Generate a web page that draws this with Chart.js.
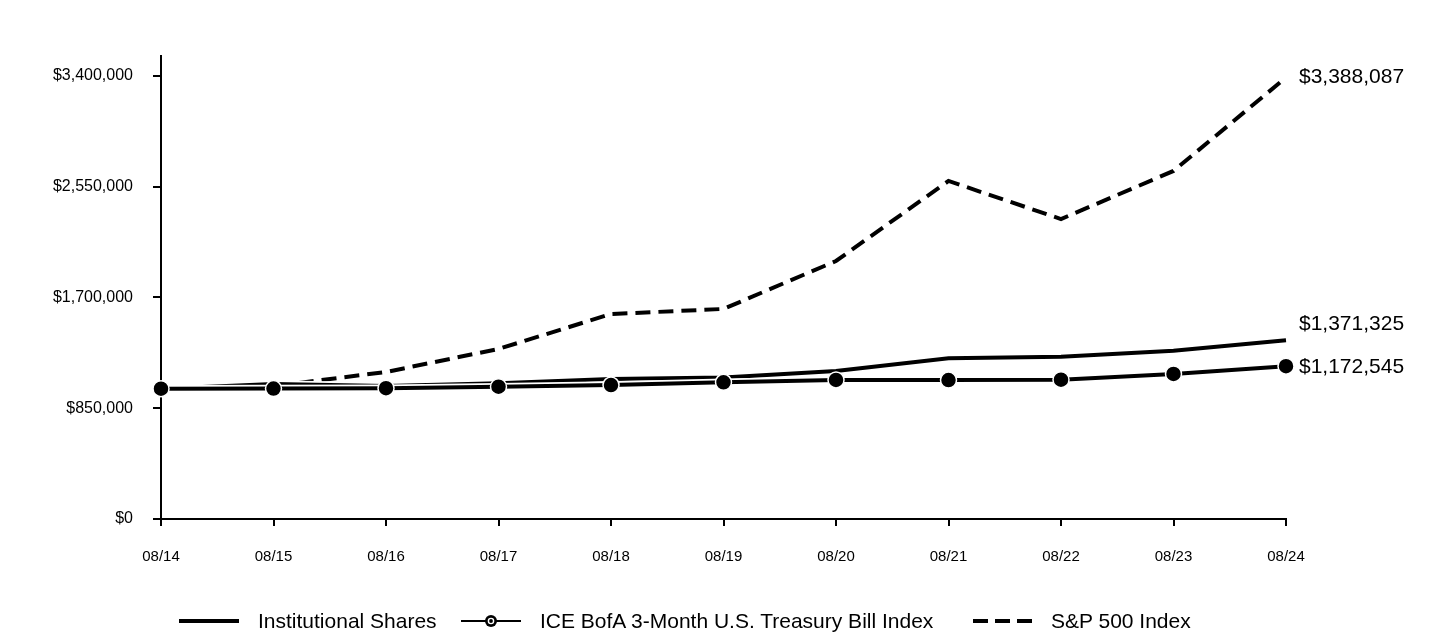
<!DOCTYPE html>
<html>
<head>
<meta charset="utf-8">
<script src="https://cdn.jsdelivr.net/npm/chart.js@4.4.1/dist/chart.umd.min.js"></script>
<style>
  html, body { margin: 0; padding: 0; background: #fff; }
  #wrap { position: relative; width: 1440px; height: 636px; overflow: hidden; }
  #c { position: absolute; left: 0; top: 0; }
  .lg { position: absolute; top: 606px; height: 30px; display: flex; align-items: center;
        font-family: "Liberation Sans", Arial, sans-serif; font-size: 21px; color: #000; white-space: nowrap; }
  .lg svg { display: block; }
</style>
</head>
<body>
<div id="wrap">
  <canvas id="c" width="1440" height="636"></canvas>
  <div class="lg" style="left:179px;">
    <svg width="60" height="30"><line x1="0" y1="15" x2="60" y2="15" stroke="#000" stroke-width="4"/></svg>
    <span style="margin-left:19px;">Institutional Shares</span>
  </div>
  <div class="lg" style="left:461px;">
    <svg width="60" height="30"><line x1="0" y1="15" x2="60" y2="15" stroke="#000" stroke-width="2"/><circle cx="30" cy="15" r="6" fill="#000"/><circle cx="30" cy="15" r="2.6" fill="none" stroke="#fff" stroke-width="1.4"/></svg>
    <span style="margin-left:19px;">ICE BofA 3-Month U.S. Treasury Bill Index</span>
  </div>
  <div class="lg" style="left:973px;">
    <svg width="60" height="30"><line x1="0" y1="15" x2="60" y2="15" stroke="#000" stroke-width="4" stroke-dasharray="15 7"/></svg>
    <span style="margin-left:18px;">S&amp;P 500 Index</span>
  </div>
</div>
<script>
// ---- data ----
const categories = ["08/14","08/15","08/16","08/17","08/18","08/19","08/20","08/21","08/22","08/23","08/24"];
const institutionalShares = [1000000, 1036000, 1021000, 1041000, 1074000, 1085000, 1136000, 1233000, 1246000, 1292000, 1371325];
const treasuryBillIndex   = [1000000, 1000500, 1004000, 1015000, 1028000, 1049000, 1067000, 1066000, 1069000, 1113000, 1172545];
const sp500Index          = [1000000, 1020000, 1128000, 1305000, 1573000, 1612000, 1980000, 2594000, 2302000, 2671000, 3388087];
const yTickValues = [0, 850000, 1700000, 2550000, 3400000];
const seriesNames = ["Institutional Shares", "ICE BofA 3-Month U.S. Treasury Bill Index", "S&P 500 Index"];

const FONT = '"Liberation Sans", Arial, sans-serif';
const fmtMoney = v => '$' + Math.round(v).toLocaleString('en-US');

// white halo under each line
const haloPlugin = {
  id: 'halo',
  beforeDatasetDraw(chart, args) {
    const pts = args.meta.data;
    if (!pts.length) return;
    const ctx = chart.ctx;
    ctx.save();
    ctx.beginPath();
    pts.forEach((p, i) => { if (i === 0) ctx.moveTo(p.x, p.y); else ctx.lineTo(p.x, p.y); });
    ctx.strokeStyle = '#fff';
    ctx.lineWidth = 7.5;
    ctx.stroke();
    ctx.restore();
  }
};

// end-value labels
const endLabelPlugin = {
  id: 'endLabels',
  afterDatasetsDraw(chart) {
    const ctx = chart.ctx;
    ctx.save();
    ctx.font = '21px ' + FONT;
    ctx.fillStyle = '#000';
    ctx.textAlign = 'left';
    ctx.textBaseline = 'middle';
    chart.data.datasets.forEach((ds, i) => {
      const meta = chart.getDatasetMeta(i);
      const last = meta.data[meta.data.length - 1];
      const v = ds.data[ds.data.length - 1];
      ctx.fillText(fmtMoney(v), last.x + 13, last.y + (ds.labelShift || 0));
    });
    ctx.restore();
  }
};

new Chart(document.getElementById('c'), {
  type: 'line',
  data: {
    labels: categories,
    datasets: [
      {
        label: seriesNames[0], data: institutionalShares, order: 2,
        borderColor: '#000', borderWidth: 4, pointRadius: 0, tension: 0, labelShift: -16
      },
      {
        label: seriesNames[1], data: treasuryBillIndex, order: 1,
        borderColor: '#000', borderWidth: 4, tension: 0,
        pointRadius: 8, pointBackgroundColor: '#000', pointBorderColor: '#fff', pointBorderWidth: 1.5,
        labelShift: 1
      },
      {
        label: seriesNames[2], data: sp500Index, order: 3,
        borderColor: '#000', borderWidth: 4, borderDash: [15, 8], pointRadius: 0, tension: 0, labelShift: 0
      }
    ]
  },
  options: {
    responsive: false,
    animation: false,
    layout: { padding: { left: 0, right: 154, top: 56, bottom: 0 } },
    plugins: { legend: { display: false }, tooltip: { enabled: false } },
    scales: {
      x: {
        offset: false,
        grid: { drawOnChartArea: false, drawTicks: true, tickLength: 7, color: '#000', lineWidth: 2 },
        border: { display: true, color: '#000', width: 2 },
        ticks: { color: '#000', font: { family: FONT, size: 15 }, padding: 22, maxRotation: 0, autoSkip: false },
        afterFit(s) { s.height = 117; }
      },
      y: {
        min: 0, max: 3553000,
        grid: { drawOnChartArea: false, drawTicks: true, tickLength: 8, color: '#000', lineWidth: 2 },
        border: { display: true, color: '#000', width: 2 },
        ticks: { color: '#000', font: { family: FONT, size: 16 }, padding: 20, callback: v => fmtMoney(v) },
        afterBuildTicks(s) { s.ticks = yTickValues.map(v => ({ value: v })); },
        afterFit(s) { s.width = 161; }
      }
    }
  },
  plugins: [haloPlugin, endLabelPlugin]
});
</script>
</body>
</html>
